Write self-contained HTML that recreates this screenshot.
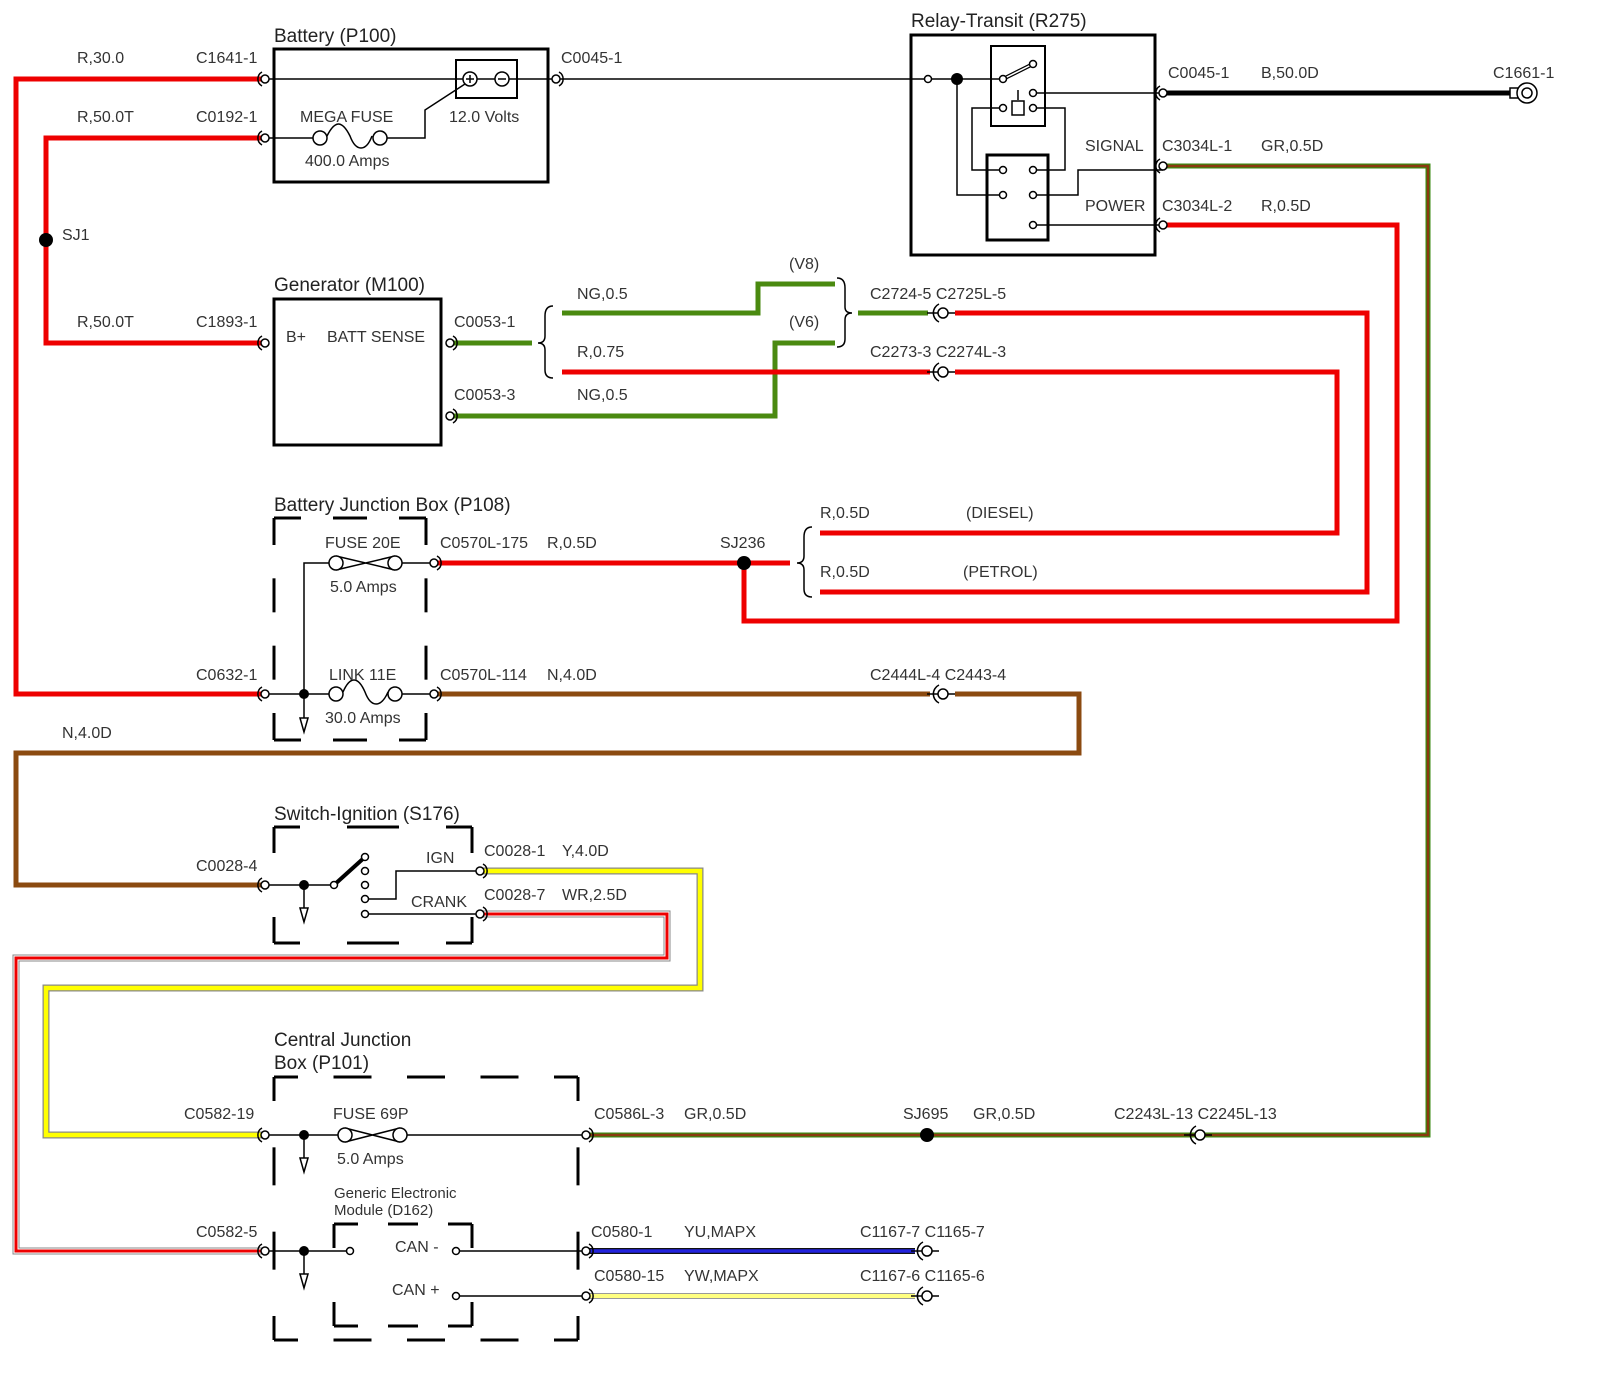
<!DOCTYPE html>
<html><head><meta charset="utf-8"><style>
html,body{margin:0;padding:0;background:#fff;overflow:hidden}
svg{display:block}
text{font-family:"Liberation Sans",Arial,sans-serif;font-size:16px;fill:#333}
.t{font-size:19px;fill:#222}
</style></head><body>
<svg id="s" width="1600" height="1383" viewBox="0 0 1600 1383" xmlns="http://www.w3.org/2000/svg">
<defs>
<g id="cr"><path d="M-3,-7 A8,8 0 0 0 -3,7" fill="none" stroke="#000" stroke-width="1.5"/><circle cx="0" cy="0" r="4" fill="#fff" stroke="#000" stroke-width="1.5"/></g>
<g id="cl"><path d="M3,-7 A8,8 0 0 1 3,7" fill="none" stroke="#000" stroke-width="1.5"/><circle cx="0" cy="0" r="4" fill="#fff" stroke="#000" stroke-width="1.5"/></g>
<g id="cpair"><line x1="-14" y1="0" x2="14" y2="0" stroke="#000" stroke-width="1.5"/><path d="M-2,-9 A10,10 0 0 0 -2,9" fill="none" stroke="#000" stroke-width="1.5"/><circle cx="2" cy="0" r="5" fill="#fff" stroke="#000" stroke-width="1.5"/></g>
</defs>
<g fill="none" stroke-linejoin="miter">
<polyline points="265,79 16,79 16,694 265,694" stroke="#e00" stroke-width="5"/>
<polyline points="265,138 46,138 46,343 265,343" stroke="#e00" stroke-width="5"/>
<line x1="1163" y1="93" x2="1515" y2="93" stroke="#000" stroke-width="5"/>
<polyline points="1163,166 1428,166 1428,1135 586,1135" stroke="#3a8a10" stroke-width="5"/>
<polyline points="1163,166 1428,166 1428,1135 586,1135" stroke="#8b3a10" stroke-width="2.5"/>
<polyline points="1163,225 1397,225 1397,621 744,621 744,563" stroke="#e00" stroke-width="5"/>
<line x1="450" y1="343" x2="532" y2="343" stroke="#4a8a10" stroke-width="5"/>
<polyline points="562,313 758,313 758,284 835,284" stroke="#4a8a10" stroke-width="5"/>
<polyline points="450,416 775,416 775,343 835,343" stroke="#4a8a10" stroke-width="5"/>
<line x1="858" y1="313" x2="928" y2="313" stroke="#4a8a10" stroke-width="5"/>
<line x1="562" y1="372" x2="930" y2="372" stroke="#e00" stroke-width="5"/>
<polyline points="955,313 1367,313 1367,592 820,592" stroke="#e00" stroke-width="5"/>
<polyline points="955,372 1337,372 1337,533 820,533" stroke="#e00" stroke-width="5"/>
<line x1="434" y1="563" x2="790" y2="563" stroke="#e00" stroke-width="5"/>
<line x1="434" y1="694" x2="930" y2="694" stroke="#8b4a10" stroke-width="5"/>
<polyline points="955,694 1079,694 1079,753 16,753 16,885 265,885" stroke="#8b4a10" stroke-width="5"/>
<polyline points="480,871 700,871 700,988 46,988 46,1135 265,1135" stroke="#888" stroke-width="7"/>
<polyline points="480,871 700,871 700,988 46,988 46,1135 265,1135" stroke="#ff0" stroke-width="4.5"/>
<polyline points="480,914 667,914 667,958 16,958 16,1251 265,1251" stroke="#888" stroke-width="7"/>
<polyline points="480,914 667,914 667,958 16,958 16,1251 265,1251" stroke="#fff" stroke-width="5"/>
<polyline points="480,914 667,914 667,958 16,958 16,1251 265,1251" stroke="#e00" stroke-width="3"/>
<line x1="586" y1="1251" x2="915" y2="1251" stroke="#111" stroke-width="6"/>
<line x1="586" y1="1251" x2="915" y2="1251" stroke="#22d" stroke-width="3.5"/>
<line x1="586" y1="1296" x2="915" y2="1296" stroke="#999" stroke-width="6"/>
<line x1="586" y1="1296" x2="915" y2="1296" stroke="#ffff80" stroke-width="4"/>

<rect x="274" y="49" width="274" height="133" stroke="#000" stroke-width="3"/>
<rect x="456" y="60" width="61" height="38" stroke="#000" stroke-width="2"/>
<line x1="265" y1="79" x2="556" y2="79" stroke="#000" stroke-width="1.5"/>
<path d="M265,138 H313 M387,138 H425 V110 L465,84" stroke="#000" stroke-width="1.5"/>
<path d="M327,136 C335,120 342,120 350,136 C356,152 366,152 372,136" stroke="#000" stroke-width="1.5"/>
<circle cx="320" cy="138" r="7" fill="#fff" stroke="#000" stroke-width="1.5"/>
<circle cx="380" cy="138" r="7" fill="#fff" stroke="#000" stroke-width="1.5"/>
<circle cx="470" cy="79" r="7" fill="#fff" stroke="#000" stroke-width="1.5"/>
<circle cx="502" cy="79" r="7" fill="#fff" stroke="#000" stroke-width="1.5"/>
<path d="M466,79h8M470,75v8M498,79h8" stroke="#000" stroke-width="1.5"/>
<line x1="556" y1="79" x2="1003" y2="79" stroke="#000" stroke-width="1.5"/>
<rect x="911" y="35" width="244" height="220" stroke="#000" stroke-width="3"/>
<rect x="991" y="46" width="54" height="80" stroke="#000" stroke-width="2"/>
<rect x="987" y="155" width="61" height="85" stroke="#000" stroke-width="3"/>
<path d="M957,79 V195 H1003 M1033,93 H1163 M1003,108 H972 V170 H1003 M1033,108 H1065 V170 H1033 M1033,195 H1078 V170 H1163 M1033,225 H1163" stroke="#000" stroke-width="1.5"/>
<line x1="1003" y1="79" x2="1033" y2="64" stroke="#000" stroke-width="4"/>
<line x1="1003" y1="79" x2="1033" y2="64" stroke="#fff" stroke-width="1.5"/>
<rect x="1012" y="101" width="12" height="14" fill="#fff" stroke="#000" stroke-width="1.5"/>
<line x1="1018" y1="90" x2="1018" y2="100" stroke="#000" stroke-width="1.5"/>
<circle cx="957" cy="79" r="6" fill="#000"/>
<g fill="#fff" stroke="#000" stroke-width="1.5">
<circle cx="928" cy="79" r="3.5"/><circle cx="1003" cy="79" r="3.5"/><circle cx="1033" cy="64" r="3.5"/><circle cx="1033" cy="93" r="3.5"/>
<circle cx="1003" cy="108" r="3.5"/><circle cx="1033" cy="108" r="3.5"/>
<circle cx="1003" cy="170" r="3.5"/><circle cx="1033" cy="170" r="3.5"/><circle cx="1003" cy="195" r="3.5"/><circle cx="1033" cy="195" r="3.5"/><circle cx="1033" cy="225" r="3.5"/>
</g>
<rect x="1510" y="88" width="8" height="10" fill="#fff" stroke="#000" stroke-width="1.5"/>
<circle cx="1527" cy="93" r="10" fill="#fff" stroke="#000" stroke-width="1.5"/>
<circle cx="1527" cy="93" r="5" stroke="#000" stroke-width="1.5"/>
<rect x="274" y="299" width="167" height="146" stroke="#000" stroke-width="3"/>
<path d="M553,306 Q545,306 545,316 V336 Q545,343 538,343 Q545,343 545,350 V370 Q545,378 553,378" stroke="#000" stroke-width="1.5"/>
<path d="M837,278 Q845,278 845,288 V307 Q845,313 852,313 Q845,313 845,320 V339 Q845,347 837,347" stroke="#000" stroke-width="1.5"/>
<path d="M812,527 Q804,527 804,537 V556 Q804,563 797,563 Q804,563 804,570 V589 Q804,597 812,597" stroke="#000" stroke-width="1.5"/>
<path d="M265,694 H330 M402,694 H434 M434,563 H402 M330,563 H304 V730" stroke="#000" stroke-width="1.5"/>
<path d="M343,692 C350,676 358,676 365,692 C371,708 381,708 388,692" stroke="#000" stroke-width="1.5"/>
<path d="M336,556 L395,570 M336,570 L395,556" stroke="#000" stroke-width="1.5"/>
<g fill="#fff" stroke="#000" stroke-width="1.5"><circle cx="336" cy="563" r="7"/><circle cx="395" cy="563" r="7"/><circle cx="336" cy="694" r="7"/><circle cx="395" cy="694" r="7"/></g>
<circle cx="304" cy="694" r="5" fill="#000"/>
<path d="M300,718 L304,732 L308,718 Z" fill="#fff" stroke="#000" stroke-width="1.5"/>
<circle cx="744" cy="563" r="7" fill="#000"/>
<path d="M265,885 H334 M304,885 V920 M365,899 H396 V871 H480 M365,914 H480" stroke="#000" stroke-width="1.5"/>
<line x1="334" y1="885" x2="365" y2="857" stroke="#000" stroke-width="4"/>
<circle cx="304" cy="885" r="5" fill="#000"/>
<path d="M300,908 L304,922 L308,908 Z" fill="#fff" stroke="#000" stroke-width="1.5"/>
<g fill="#fff" stroke="#000" stroke-width="1.5"><circle cx="334" cy="885" r="3.5"/><circle cx="365" cy="857" r="3.5"/><circle cx="365" cy="871" r="3.5"/><circle cx="365" cy="885" r="3.5"/><circle cx="365" cy="899" r="3.5"/><circle cx="365" cy="914" r="3.5"/></g>
<path d="M265,1135 H338 M407,1135 H586 M304,1135 V1170 M265,1251 H346 M304,1251 V1286 M460,1251 H586 M460,1296 H586" stroke="#000" stroke-width="1.5"/>
<path d="M345,1128 L400,1142 M345,1142 L400,1128" stroke="#000" stroke-width="1.5"/>
<g fill="#fff" stroke="#000" stroke-width="1.5"><circle cx="345" cy="1135" r="7"/><circle cx="400" cy="1135" r="7"/><circle cx="350" cy="1251" r="3.5"/><circle cx="456" cy="1251" r="3.5"/><circle cx="456" cy="1296" r="3.5"/></g>
<circle cx="304" cy="1135" r="5" fill="#000"/><circle cx="304" cy="1251" r="5" fill="#000"/>
<path d="M300,1158 L304,1172 L308,1158 Z" fill="#fff" stroke="#000" stroke-width="1.5"/>
<path d="M300,1274 L304,1288 L308,1274 Z" fill="#fff" stroke="#000" stroke-width="1.5"/>
<circle cx="927" cy="1135" r="7" fill="#000"/>
<circle cx="46" cy="240" r="7" fill="#000"/>
<g id="dashes" stroke="#000" stroke-width="3"></g>
</g>
<use href="#cr" x="265" y="79"/><use href="#cr" x="265" y="138"/><use href="#cr" x="265" y="343"/>
<use href="#cl" x="556" y="79"/><use href="#cr" x="1163" y="93"/><use href="#cr" x="1163" y="166"/><use href="#cr" x="1163" y="225"/>
<use href="#cl" x="450" y="343"/><use href="#cl" x="450" y="416"/>
<use href="#cpair" x="941" y="313"/><use href="#cpair" x="941" y="372"/><use href="#cpair" x="941" y="694"/>
<use href="#cpair" x="1198" y="1135"/><use href="#cpair" x="925" y="1251"/><use href="#cpair" x="925" y="1296"/>
<use href="#cl" x="434" y="563"/><use href="#cr" x="265" y="694"/><use href="#cl" x="434" y="694"/>
<use href="#cr" x="265" y="885"/><use href="#cl" x="480" y="871"/><use href="#cl" x="480" y="914"/>
<use href="#cr" x="265" y="1135"/><use href="#cl" x="586" y="1135"/><use href="#cr" x="265" y="1251"/><use href="#cl" x="586" y="1251"/><use href="#cl" x="586" y="1296"/>

<text class="t" x="274" y="42">Battery (P100)</text>
<text class="t" x="911" y="27">Relay-Transit (R275)</text>
<text class="t" x="274" y="291">Generator (M100)</text>
<text class="t" x="274" y="511">Battery Junction Box (P108)</text>
<text class="t" x="274" y="820">Switch-Ignition (S176)</text>
<text class="t" x="274" y="1046">Central Junction</text>
<text class="t" x="274" y="1069">Box (P101)</text>
<text x="77" y="63">R,30.0</text><text x="196" y="63">C1641-1</text>
<text x="77" y="122">R,50.0T</text><text x="196" y="122">C0192-1</text>
<text x="62" y="240">SJ1</text>
<text x="77" y="327">R,50.0T</text><text x="196" y="327">C1893-1</text>
<text x="300" y="122">MEGA FUSE</text><text x="305" y="166">400.0 Amps</text><text x="449" y="122">12.0 Volts</text>
<text x="561" y="63">C0045-1</text>
<text x="1168" y="78">C0045-1</text><text x="1261" y="78">B,50.0D</text><text x="1493" y="78">C1661-1</text>
<text x="1085" y="151">SIGNAL</text><text x="1162" y="151">C3034L-1</text><text x="1261" y="151">GR,0.5D</text>
<text x="1085" y="211">POWER</text><text x="1162" y="211">C3034L-2</text><text x="1261" y="211">R,0.5D</text>
<text x="286" y="342">B+</text><text x="327" y="342">BATT SENSE</text>
<text x="454" y="327">C0053-1</text><text x="454" y="400">C0053-3</text>
<text x="577" y="299">NG,0.5</text><text x="577" y="357">R,0.75</text><text x="577" y="400">NG,0.5</text>
<text x="789" y="269">(V8)</text><text x="789" y="327">(V6)</text>
<text x="870" y="299">C2724-5 C2725L-5</text><text x="870" y="357">C2273-3 C2274L-3</text>
<text x="820" y="518">R,0.5D</text><text x="966" y="518">(DIESEL)</text>
<text x="820" y="577">R,0.5D</text><text x="963" y="577">(PETROL)</text>
<text x="325" y="548">FUSE 20E</text><text x="330" y="592">5.0 Amps</text>
<text x="440" y="548">C0570L-175</text><text x="547" y="548">R,0.5D</text><text x="720" y="548">SJ236</text>
<text x="196" y="680">C0632-1</text><text x="329" y="680">LINK 11E</text><text x="325" y="723">30.0 Amps</text>
<text x="440" y="680">C0570L-114</text><text x="547" y="680">N,4.0D</text><text x="870" y="680">C2444L-4 C2443-4</text>
<text x="62" y="738">N,4.0D</text>
<text x="196" y="871">C0028-4</text><text x="426" y="863">IGN</text><text x="411" y="907">CRANK</text>
<text x="484" y="856">C0028-1</text><text x="562" y="856">Y,4.0D</text>
<text x="484" y="900">C0028-7</text><text x="562" y="900">WR,2.5D</text>
<text x="184" y="1119">C0582-19</text><text x="333" y="1119">FUSE 69P</text><text x="337" y="1164">5.0 Amps</text>
<text x="594" y="1119">C0586L-3</text><text x="684" y="1119">GR,0.5D</text><text x="903" y="1119">SJ695</text><text x="973" y="1119">GR,0.5D</text>
<text x="1114" y="1119">C2243L-13 C2245L-13</text>
<text x="334" y="1198" style="font-size:15px">Generic Electronic</text><text x="334" y="1215" style="font-size:15px">Module (D162)</text>
<text x="196" y="1237">C0582-5</text><text x="395" y="1252">CAN -</text><text x="392" y="1295">CAN +</text>
<text x="591" y="1237">C0580-1</text><text x="684" y="1237">YU,MAPX</text><text x="860" y="1237">C1167-7 C1165-7</text>
<text x="594" y="1281">C0580-15</text><text x="684" y="1281">YW,MAPX</text><text x="860" y="1281">C1167-6 C1165-6</text>
</svg>
<script>
(function(){
var g=document.getElementById('dashes'),NS='http://www.w3.org/2000/svg';
function ln(x1,y1,x2,y2){var l=document.createElementNS(NS,'line');l.setAttribute('x1',x1);l.setAttribute('y1',y1);l.setAttribute('x2',x2);l.setAttribute('y2',y2);g.appendChild(l);}
function side(x1,y1,x2,y2,c,d){
 var L=Math.abs(x2-x1)+Math.abs(y2-y1),dx=(x2-x1)/L,dy=(y2-y1)/L;
 var n=Math.max(0,Math.round((L-2*c)/(2*d)-0.5));
 var gap=(L-2*c-n*d)/(n+1);
 function seg(a,b){ln(x1+dx*a,y1+dy*a,x1+dx*b,y1+dy*b);}
 seg(0,c);seg(L-c,L);
 var p=c+gap;for(var i=0;i<n;i++){seg(p,p+d);p+=d+gap;}
}
function box(x,y,w,h,c,d){
 side(x,y,x+w,y,c,d);side(x,y+h,x+w,y+h,c,d);
 side(x,y,x,y+h,c,d);side(x+w,y,x+w,y+h,c,d);
}
box(274,518,152,222,27,34);
box(274,827,198,116,26,52);
box(274,1077,304,263,24,38);
box(334,1224,138,102,24,30);
})();
</script>
</body></html>
